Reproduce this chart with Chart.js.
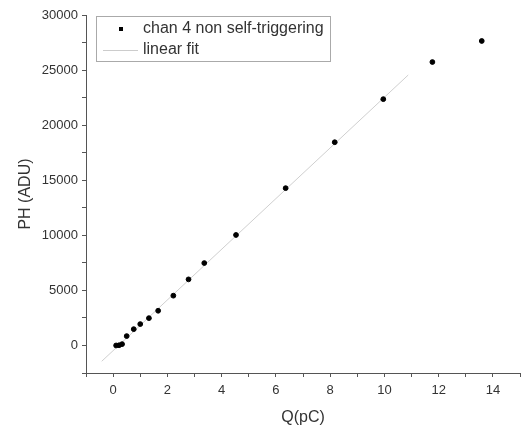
<!DOCTYPE html>
<html lang="en">
<head>
    <meta charset="UTF-8">
    <title>PH vs Q</title>
    <script src="https://cdn.jsdelivr.net/npm/chart.js"></script>
    <style>
        body {
            margin: 0;
            padding: 0;
            background-color: #ffffff;
        }
        .chart-box {
            width: 526px;
            height: 429px;
        }
    </style>
</head>
<body>
    <div class="chart-box">
        <canvas id="phChart"></canvas>
    </div>

    <script>
        // measured points: charge (pC) and pulse height (ADU)
        const chargeQ = [0.11, 0.22, 0.33, 0.5, 0.76, 1.0, 1.32, 1.66, 2.22, 2.78, 3.36, 4.53, 6.36, 8.17, 9.96, 11.77, 13.59];
        const pulseHeight = [0, 20, 120, 850, 1480, 1940, 2480, 3150, 4520, 6000, 7480, 10030, 14280, 18450, 22360, 25730, 27640];

        // linear fit
        const fitRange = [-0.42, 10.88];
        const fitSlope = 2300;
        const fitIntercept = -470;

        const seriesLabels = ['chan 4 non self-triggering', 'linear fit'];

        const xTicks = { min: -1, max: 15, step: 1, labelEvery: 2 };
        const yTicks = { min: -2500, max: 30000, step: 2500, labelEvery: 5000 };

        const pointData = chargeQ.map((q, i) => ({ x: q, y: pulseHeight[i] }));
        const fitData = fitRange.map(q => ({ x: q, y: fitSlope * q + fitIntercept }));

        const axisColor = '#555';
        const textColor = '#333';

        // legend drawn as a framed box in the upper left of the plot
        const boxLegend = {
            id: 'boxLegend',
            afterDraw(chart) {
                const ctx = chart.ctx;
                const x0 = 96, y0 = 16, w = 234, h = 45;
                ctx.save();
                ctx.strokeStyle = '#aaa';
                ctx.lineWidth = 1;
                ctx.strokeRect(x0 + 0.5, y0 + 0.5, w, h);
                ctx.fillStyle = '#000';
                ctx.fillRect(119, 27, 4, 4);
                ctx.strokeStyle = '#ccc';
                ctx.beginPath();
                ctx.moveTo(103, 50.5);
                ctx.lineTo(138, 50.5);
                ctx.stroke();
                ctx.fillStyle = textColor;
                ctx.font = '16px "Liberation Sans", Arial, sans-serif';
                ctx.textBaseline = 'middle';
                ctx.fillText(seriesLabels[0], 143, 29);
                ctx.fillText(seriesLabels[1], 143, 50);
                ctx.restore();
            }
        };

        const ctx = document.getElementById('phChart').getContext('2d');
        const phChart = new Chart(ctx, {
            type: 'scatter',
            data: {
                datasets: [{
                    label: seriesLabels[0],
                    data: pointData,
                    backgroundColor: '#000',
                    borderColor: '#000',
                    pointRadius: 2.4,
                    showLine: false
                }, {
                    label: seriesLabels[1],
                    data: fitData,
                    borderColor: '#cfcfcf',
                    borderWidth: 1,
                    pointRadius: 0,
                    showLine: true,
                    fill: false
                }]
            },
            options: {
                responsive: true,
                maintainAspectRatio: false,
                animation: false,
                layout: { padding: { top: 15, right: 4, left: 0, bottom: 0 } },
                plugins: {
                    legend: { display: false },
                    tooltip: { enabled: false }
                },
                scales: {
                    x: {
                        type: 'linear',
                        min: xTicks.min,
                        max: xTicks.max,
                        border: { color: axisColor, width: 1 },
                        grid: { drawOnChartArea: false, drawTicks: true, tickLength: 4, color: axisColor },
                        ticks: {
                            stepSize: xTicks.step,
                            autoSkip: false,
                            maxRotation: 0,
                            padding: 6,
                            color: textColor,
                            font: { family: '"Liberation Sans", Arial, sans-serif', size: 13 },
                            callback: v => (v % xTicks.labelEvery === 0 ? v : '')
                        },
                        title: {
                            display: true,
                            text: 'Q(pC)',
                            color: textColor,
                            padding: { top: 6, bottom: 2 },
                            font: { family: '"Liberation Sans", Arial, sans-serif', size: 16 }
                        },
                        afterFit: s => { s.height = 56; }
                    },
                    y: {
                        type: 'linear',
                        min: yTicks.min,
                        max: yTicks.max,
                        border: { color: axisColor, width: 1 },
                        grid: { drawOnChartArea: false, drawTicks: true, tickLength: 4, color: axisColor },
                        ticks: {
                            stepSize: yTicks.step,
                            autoSkip: false,
                            padding: 4,
                            color: textColor,
                            font: { family: '"Liberation Sans", Arial, sans-serif', size: 13 },
                            callback: v => (v % yTicks.labelEvery === 0 ? v : '')
                        },
                        title: {
                            display: true,
                            text: 'PH (ADU)',
                            color: textColor,
                            padding: { top: 16, bottom: 4 },
                            font: { family: '"Liberation Sans", Arial, sans-serif', size: 16 }
                        },
                        afterFit: s => { s.width = 86; }
                    }
                }
            },
            plugins: [boxLegend]
        });
    </script>
</body>
</html>
